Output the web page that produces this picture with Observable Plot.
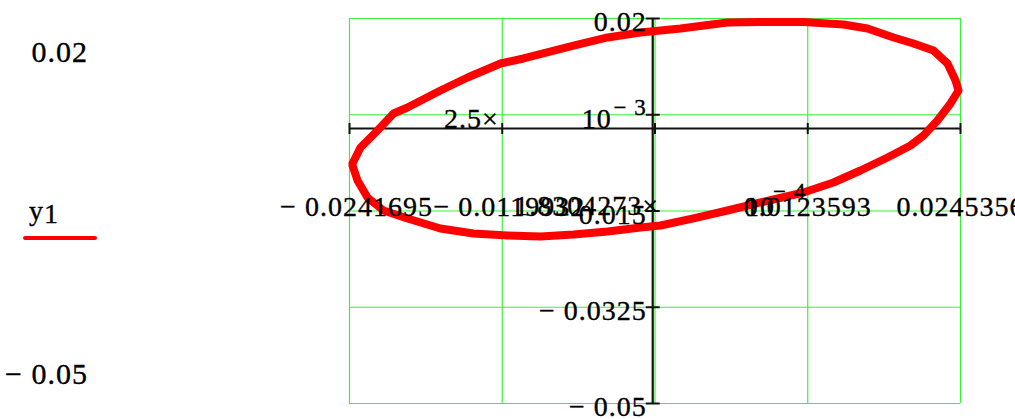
<!DOCTYPE html>
<html><head><meta charset="utf-8">
<script src="https://cdn.jsdelivr.net/npm/d3@7"></script>
<script src="https://cdn.jsdelivr.net/npm/@observablehq/plot@0.6"></script>
<style>
body{margin:0;background:#fff;}
#wrap{position:relative;width:1015px;height:419px;overflow:hidden;font-family:"Liberation Serif","Times New Roman",serif;background:#fff;}
#wrap svg{position:absolute;left:0;top:0;}
#wrap svg text{stroke:#000;stroke-width:0.35px;}
.lbl{position:absolute;font-size:30px;line-height:30px;letter-spacing:1px;white-space:pre;color:#000;-webkit-text-stroke:0.35px #000;}
</style></head>
<body><div id="wrap"></div>
<script>
// ---- data ----
const xDomain = [-0.0241695, 0.0245356];
const yDomain = [-0.05, 0.02];
const xTicks = [-0.0241695, -0.0119932, 0.00018304273, 0.0123593, 0.0245356];
const xTickText = ["\u2212 0.0241695", "\u2212 0.0119932", "1.8304273\u00d710^\u2212 4", "0.0123593", "0.0245356"];
const yTicks = [0.02, 0.0025, -0.015, -0.0325, -0.05];
const yTickText = ["0.02", "2.5\u00d710^\u2212 3", "\u2212 0.015", "\u2212 0.0325", "\u2212 0.05"];
const yLimitText = ["0.02", "\u2212 0.05"];
const seriesName = "y1";
const curveX = [
 -0.02393,-0.02329,-0.02194,-0.02066,-0.01955,-0.01692,-0.01476,-0.01213,-0.01030,-0.00631,
 -0.00360,-0.00097,0.00222,0.00596,0.00859,0.01202,0.01521,0.01712,0.01920,0.02079,
 0.02238,0.02350,0.02414,0.02438,0.02374,0.02270,0.02159,0.02055,0.01872,0.01656,
 0.01441,0.01202,0.00859,0.00596,0.00325,0.00062,-0.00097,-0.00360,-0.00631,-0.00894,
 -0.01157,-0.01429,-0.01692,-0.01955,-0.02146,-0.02273,-0.02353,-0.02393,-0.02393];
const curveY = [
 -0.00636,-0.00345,-0.00036,0.00273,0.00382,0.00691,0.00927,0.01182,0.01273,0.01509,
 0.01655,0.01745,0.01818,0.01927,0.01936,0.01936,0.01891,0.01818,0.01655,0.01545,
 0.01418,0.01182,0.00873,0.00691,0.00455,0.00145,-0.00127,-0.00309,-0.00527,-0.00764,
 -0.00982,-0.01164,-0.01345,-0.01491,-0.01636,-0.01764,-0.01800,-0.01873,-0.01927,-0.01964,
 -0.01945,-0.01909,-0.01818,-0.01636,-0.01491,-0.01255,-0.00945,-0.00673,-0.00636];

(function () {
  const curve = curveX.map((x, i) => ({x, y: curveY[i]}));
  const split = (ticks, texts) => {
    const plain = [], sci = [];
    ticks.forEach((v, i) => {
      const s = texts[i];
      if (s.includes("10^")) { const [m, e] = s.split("10^"); sci.push({v, m, e}); }
      else plain.push({v, s});
    });
    return {plain, sci};
  };
  const xl = split(xTicks, xTickText);
  const yl = split(yTicks, yTickText);
  const xNeg = xl.plain.filter(d => d.s.startsWith("\u2212"));
  const xPos = xl.plain.filter(d => !d.s.startsWith("\u2212"));
  const lineSym = (vertical) => ({draw(ctx, size) {
    const r = Math.sqrt(size / Math.PI);
    if (vertical) { ctx.moveTo(0, -r); ctx.lineTo(0, r); } else { ctx.moveTo(-r, 0); ctx.lineTo(r, 0); }
  }});
  const green = "#3cf03c";
  const fs = 28;

  const chart = Plot.plot({
    width: 1015, height: 419,
    marginLeft: 349, marginRight: 55, marginTop: 18, marginBottom: 16,
    x: {domain: xDomain, axis: null},
    y: {domain: yDomain, axis: null},
    style: {fontFamily: "'Liberation Serif','Times New Roman',serif", background: "transparent", overflow: "visible", letterSpacing: "1px"},
    marks: [
      Plot.ruleX(xTicks, {stroke: green, strokeWidth: 1.2}),
      Plot.ruleY(yTicks, {stroke: green, strokeWidth: 1.2}),
      Plot.ruleY([0], {stroke: "#111", strokeWidth: 2}),
      Plot.ruleX([0], {stroke: "#111", strokeWidth: 2.2}),
      Plot.dot(xTicks, {x: d => d, y: 0, r: 5.5, symbol: lineSym(true), stroke: "#111", strokeWidth: 2, fill: "none"}),
      Plot.dot(yTicks, {x: 0, y: d => d, r: 7, symbol: lineSym(false), stroke: "#111", strokeWidth: 2, fill: "none"}),
      Plot.line(curve, {x: "x", y: "y", stroke: "#ff0000", strokeWidth: 8, strokeLinejoin: "round", strokeLinecap: "round"}),
      Plot.text(yl.plain, {x: 0, y: "v", text: "s", textAnchor: "end", dx: -6, dy: 4, fontSize: fs, fill: "#000"}),
      Plot.text(yl.sci, {x: 0, y: "v", text: "m", textAnchor: "end", dx: -154, dy: 4, fontSize: fs, fill: "#000"}),
      Plot.text(yl.sci, {x: 0, y: "v", text: () => "10", textAnchor: "end", dx: -41, dy: 4, fontSize: fs, fill: "#000"}),
      Plot.text(yl.sci, {x: 0, y: "v", text: "e", textAnchor: "end", dx: -6, dy: -7, fontSize: 23, fill: "#000"}),
      Plot.text(xNeg, {x: "v", y: 0, text: "s", dx: 7, dy: 79, fontSize: fs, fill: "#000"}),
      Plot.text(xPos, {x: "v", y: 0, text: "s", dy: 79, fontSize: fs, fill: "#000"}),
      Plot.text(xl.sci, {x: "v", y: 0, text: "m", textAnchor: "end", dx: 4, dy: 78, fontSize: fs, fill: "#000"}),
      Plot.text(xl.sci, {x: "v", y: 0, text: () => "10", textAnchor: "start", dx: 90, dy: 79, fontSize: fs, fill: "#000"}),
      Plot.text(xl.sci, {x: "v", y: 0, text: "e", textAnchor: "start", dx: 118, dy: 63, fontSize: 23, fill: "#000"})
    ]
  });
  const wrap = document.getElementById("wrap");
  wrap.appendChild(chart);

  const topLbl = document.createElement("div");
  topLbl.className = "lbl"; topLbl.style.right = (1015 - 88) + "px"; topLbl.style.top = "37px";
  topLbl.textContent = yLimitText[0];
  wrap.appendChild(topLbl);
  const botLbl = document.createElement("div");
  botLbl.className = "lbl"; botLbl.style.right = (1015 - 88) + "px"; botLbl.style.top = "359px";
  botLbl.textContent = yLimitText[1];
  wrap.appendChild(botLbl);
  const leg = document.createElement("div");
  leg.className = "lbl"; leg.style.left = "29px"; leg.style.top = "196px"; leg.style.fontSize = "28px";
  leg.innerHTML = seriesName.slice(0, 1) + '<span style="position:relative;top:3px">' + seriesName.slice(1) + "</span>";
  wrap.appendChild(leg);
  const sw = document.createElement("div");
  sw.style.cssText = "position:absolute;left:23px;top:236px;width:74px;height:4px;border-radius:2px;background:#ff0000;";
  wrap.appendChild(sw);
})();
</script></body></html>
